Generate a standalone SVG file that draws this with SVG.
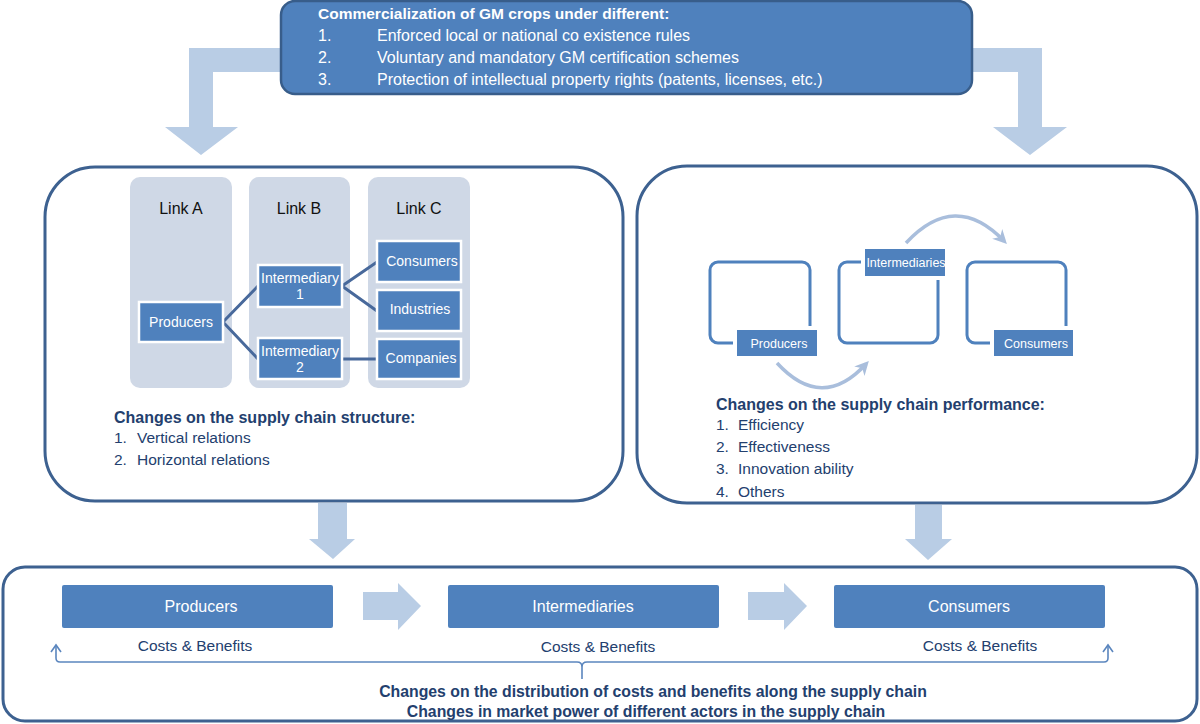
<svg xmlns="http://www.w3.org/2000/svg" width="1200" height="724" viewBox="0 0 1200 724">
<defs>
<style>
text{font-family:"Liberation Sans",Arial,sans-serif}
.panel{fill:#fff;stroke:#3D6190;stroke-width:3}
.bigarrow{fill:#B9CDE5}
.col{fill:#CFD8E6}
.node{fill:#4F81BD;stroke:#fff;stroke-width:2.5}
.lbl{fill:#4F81BD;stroke:#fff;stroke-width:4}
.bar{fill:#4F81BD}
.wt{fill:#fff;text-anchor:middle}
.dk{fill:#23406E}
.hd{fill:#23406E;font-weight:bold;font-size:16px}
.li{fill:#23406E;font-size:15.5px}
.conn{stroke:#48699B;stroke-width:3;fill:none}
.loop{stroke:#4F81BD;stroke-width:3;fill:none}
.curve{stroke:#A9BEDC;stroke-width:3.5;fill:none}
.brace{stroke:#5B86BE;stroke-width:1.6;fill:none}
</style>
<marker id="ah" viewBox="0 0 10 10" refX="7" refY="5" markerWidth="4" markerHeight="4" orient="auto">
<path d="M0,0 L10,5 L0,10 L3,5 Z" fill="#A9BEDC"/>
</marker>
</defs>

<!-- big bent arrows from top box -->
<g id="top-arrows">
<polygon class="bigarrow" points="282,48 189,48 189,127 165,127 201,155 238,127 213,127 213,72 282,72"/>
<polygon class="bigarrow" points="970,48 1042,48 1042,127 1067,127 1030,155 993,127 1018,127 1018,72 970,72"/>
</g>

<g id="top-box">
<rect x="281" y="1" width="691" height="93" rx="14" fill="#4F81BD" stroke="#385D8A" stroke-width="2.5"/>
<text x="318" y="19" fill="#fff" font-size="15.5" font-weight="bold">Commercialization of GM crops under different:</text>
<g fill="#fff" font-size="16">
<text x="318" y="40.5">1.</text><text x="377" y="40.5">Enforced local or national co existence rules</text>
<text x="318" y="62.5">2.</text><text x="377" y="62.5">Voluntary and mandatory GM certification schemes</text>
<text x="318" y="84.5">3.</text><text x="377" y="84.5">Protection of intellectual property rights (patents, licenses, etc.)</text>
</g>
</g>

<!-- left panel -->
<g id="structure-panel">
<rect class="panel" x="45" y="167" width="578" height="334" rx="50"/>
<rect class="col" x="130" y="177" width="102" height="211" rx="10"/>
<rect class="col" x="249" y="177" width="101" height="211" rx="10"/>
<rect class="col" x="368" y="177" width="102" height="211" rx="10"/>
<g font-size="16" fill="#111" text-anchor="middle">
<text x="181" y="214">Link A</text>
<text x="299" y="214">Link B</text>
<text x="419" y="214">Link C</text>
</g>
<g id="structure-connectors">
<path class="conn" d="M223,322 L258,286 M223,322 L258,359 M342,286 L377,262 M342,286 L377,311 M342,359 L377,359"/>
</g>
<g id="s-producers"><rect class="node" x="139" y="302" width="84" height="40"/><text class="wt" x="181" y="327" font-size="14">Producers</text></g>
<g id="s-int1"><rect class="node" x="258" y="265" width="84" height="42"/><text class="wt" x="300" y="283" font-size="14">Intermediary</text><text class="wt" x="300" y="299" font-size="14">1</text></g>
<g id="s-int2"><rect class="node" x="258" y="338" width="84" height="41"/><text class="wt" x="300" y="356" font-size="14">Intermediary</text><text class="wt" x="300" y="372" font-size="14">2</text></g>
<g id="s-consumers"><rect class="node" x="377" y="241" width="84" height="41"/><text class="wt" x="422" y="266" font-size="14">Consumers</text></g>
<g id="s-industries"><rect class="node" x="377" y="290" width="84" height="41"/><text class="wt" x="420" y="314" font-size="14">Industries</text></g>
<g id="s-companies"><rect class="node" x="377" y="339" width="84" height="40"/><text class="wt" x="421" y="363" font-size="14">Companies</text></g>
<text class="hd" x="114" y="423">Changes on the supply chain structure:</text>
<text class="li" x="114" y="443">1.</text><text class="li" x="137" y="443">Vertical relations</text>
<text class="li" x="114" y="465">2.</text><text class="li" x="137" y="465">Horizontal relations</text>
</g>

<!-- right panel -->
<g id="performance-panel">
<rect class="panel" x="637" y="166" width="560" height="337" rx="50"/>
<rect class="loop" x="710" y="262" width="100" height="81" rx="8"/>
<rect class="loop" x="839" y="262" width="99" height="81" rx="8"/>
<rect class="loop" x="967" y="262" width="99" height="81" rx="8"/>
<path class="curve" d="M777,363 Q822,412 866,364" marker-end="url(#ah)"/>
<path class="curve" d="M906,243 Q955,190 1004,241" marker-end="url(#ah)"/>
<g id="p-producers"><rect class="lbl" x="735" y="328" width="84" height="30"/><text class="wt" x="779" y="347.5" font-size="12.5">Producers</text></g>
<g id="p-intermediaries"><rect class="lbl" x="863" y="247" width="84" height="31"/><text class="wt" x="906" y="266.5" font-size="12.5">Intermediaries</text></g>
<g id="p-consumers"><rect class="lbl" x="992" y="328" width="83" height="30"/><text class="wt" x="1036" y="347.5" font-size="12.5">Consumers</text></g>
<text class="hd" x="716" y="410">Changes on the supply chain performance:</text>
<text class="li" x="716" y="430">1.</text><text class="li" x="738" y="430">Efficiency</text>
<text class="li" x="716" y="452">2.</text><text class="li" x="738" y="452">Effectiveness</text>
<text class="li" x="716" y="474">3.</text><text class="li" x="738" y="474">Innovation ability</text>
<text class="li" x="716" y="497">4.</text><text class="li" x="738" y="497">Others</text>
</g>

<!-- arrows between panels -->
<g id="down-arrows">
<polygon class="bigarrow" points="318,503 347,503 347,539 355,539 333,559 309,539 318,539"/>
<polygon class="bigarrow" points="915,505 942,505 942,539 952,539 928,560 905,539 915,539"/>
</g>

<!-- bottom panel -->
<g id="distribution-panel">
<rect class="panel" x="3" y="567" width="1194" height="154" rx="22"/>
<g id="b-producers"><rect class="bar" x="62" y="585" width="271" height="43" rx="2"/><text class="wt" x="201" y="611.5" font-size="16">Producers</text></g>
<g id="b-intermediaries"><rect class="bar" x="448" y="585" width="271" height="43" rx="2"/><text class="wt" x="583" y="611.5" font-size="16">Intermediaries</text></g>
<g id="b-consumers"><rect class="bar" x="834" y="585" width="271" height="43" rx="2"/><text class="wt" x="969" y="611.5" font-size="16">Consumers</text></g>
<polygon class="bigarrow" points="363,592 398,592 398,583 421,606 398,630 398,620 363,620"/>
<polygon class="bigarrow" points="748,592 784,592 784,583 807,606 784,630 784,620 748,620"/>
<g class="dk" font-size="15.5" text-anchor="middle">
<text x="195" y="650.5">Costs &amp; Benefits</text>
<text x="598" y="652">Costs &amp; Benefits</text>
<text x="980" y="651">Costs &amp; Benefits</text>
</g>
<path class="brace" d="M56,646 V658 Q56,662 60,662 H577 Q582,662 582,667 V679 M582,667 Q582,662 587,662 H1104 Q1108,662 1108,658 V646"/>
<path class="brace" d="M51,652 L56,645 L61,652 M1103,652 L1108,645 L1113,652"/>
<g class="dk" font-size="15.8" font-weight="bold" text-anchor="middle">
<text x="653" y="697">Changes on the distribution of costs and benefits along the supply chain</text>
<text x="646" y="717">Changes in market power of different actors in the supply chain</text>
</g>
</g>
</svg>
